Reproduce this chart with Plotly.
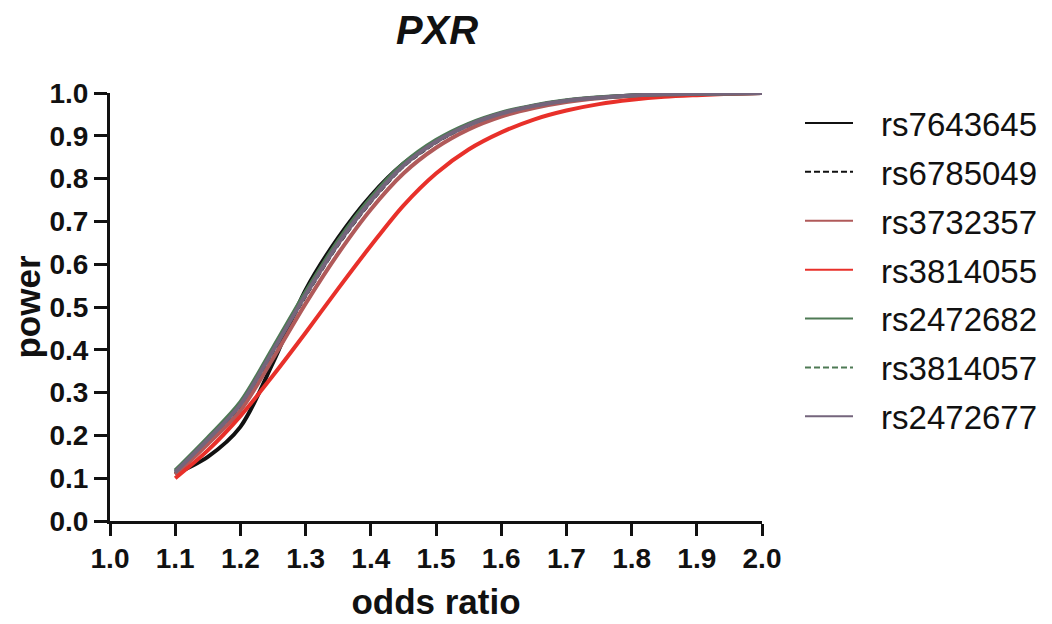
import plotly.graph_objects as go

odds_ratio = [1.10, 1.15, 1.20, 1.25, 1.30, 1.35, 1.40, 1.45, 1.50, 1.55,
              1.60, 1.65, 1.70, 1.75, 1.80, 1.85, 1.90, 1.95, 2.00]

rs7643645 = [0.110, 0.150, 0.220, 0.370, 0.540, 0.662, 0.760, 0.835, 0.887, 0.926,
             0.952, 0.970, 0.982, 0.989, 0.994, 0.997, 0.998, 0.999, 1.000]
rs6785049 = [0.112, 0.188, 0.268, 0.395, 0.525, 0.645, 0.745, 0.828, 0.884, 0.924,
             0.951, 0.969, 0.981, 0.989, 0.994, 0.997, 0.998, 0.999, 1.000]
rs3732357 = [0.108, 0.180, 0.258, 0.380, 0.508, 0.625, 0.728, 0.812, 0.872, 0.915,
             0.945, 0.965, 0.979, 0.988, 0.993, 0.996, 0.998, 0.999, 1.000]
rs3814055 = [0.100, 0.165, 0.245, 0.340, 0.440, 0.543, 0.643, 0.737, 0.812, 0.868,
             0.908, 0.938, 0.959, 0.974, 0.984, 0.991, 0.995, 0.998, 1.000]
rs2472682 = [0.118, 0.195, 0.278, 0.405, 0.535, 0.655, 0.755, 0.835, 0.890, 0.928,
             0.954, 0.971, 0.983, 0.990, 0.994, 0.997, 0.998, 0.999, 1.000]
rs3814057 = [0.116, 0.193, 0.275, 0.402, 0.532, 0.652, 0.752, 0.833, 0.888, 0.927,
             0.953, 0.970, 0.982, 0.989, 0.994, 0.997, 0.998, 0.999, 1.000]
rs2472677 = [0.114, 0.190, 0.272, 0.398, 0.528, 0.648, 0.748, 0.830, 0.886, 0.925,
             0.952, 0.970, 0.982, 0.989, 0.994, 0.997, 0.998, 0.999, 1.000]

series = [
    ("rs7643645", rs7643645, "#111111", "solid"),
    ("rs6785049", rs6785049, "#111111", "dash"),
    ("rs3732357", rs3732357, "#b05a5a", "solid"),
    ("rs3814055", rs3814055, "#e8302a", "solid"),
    ("rs2472682", rs2472682, "#4e7a55", "solid"),
    ("rs3814057", rs3814057, "#4e7a55", "dash"),
    ("rs2472677", rs2472677, "#74657c", "solid"),
]

x_ticks = [1.0, 1.1, 1.2, 1.3, 1.4, 1.5, 1.6, 1.7, 1.8, 1.9, 2.0]
y_ticks = [0.0, 0.1, 0.2, 0.3, 0.4, 0.5, 0.6, 0.7, 0.8, 0.9, 1.0]

FONT = "Liberation Sans, Arial, sans-serif"
INK = "#111111"
LEGEND_PAD = "\u2002\u2009"  # visual gap between key line and label

fig = go.Figure()
for i, (name, vals, color, dash) in enumerate(series):
    fig.add_trace(go.Scatter(
        x=odds_ratio, y=vals, mode="lines", name=name, showlegend=False,
        legendgroup=f"g{i}",
        line=dict(color=color, width=4 if dash == "solid" else 3,
                  dash="6px,3px" if dash == "dash" else "solid",
                  shape="spline", smoothing=0.9),
    ))
    fig.add_trace(go.Scatter(
        x=[None], y=[None], mode="lines", name=LEGEND_PAD + name, showlegend=True,
        legendgroup=f"g{i}",
        line=dict(color=color, width=2, dash="6px,3px" if dash == "dash" else "solid"),
    ))

tick_font = dict(family=FONT, size=28, color=INK)
title_font = dict(family=FONT, size=35, color=INK)
fig.update_layout(
    width=1052, height=624,
    margin=dict(l=102, r=298, t=85, b=111, autoexpand=False),
    paper_bgcolor="white", plot_bgcolor="white",
    title=dict(text="<b><i>PXR</i></b>", x=429 / 1052, xanchor="center",
               y=1 - 22 / 624, yanchor="middle", xref="container", yref="container",
               font=dict(family=FONT, size=40, color=INK)),
    xaxis=dict(range=[1.0, 2.0], tickvals=x_ticks, ticktext=[f"<b>{v:.1f}</b>" for v in x_ticks],
               showgrid=False, zeroline=False, showline=True, linecolor=INK, linewidth=3,
               ticks="outside", ticklen=12, tickwidth=3, tickcolor=INK, tickfont=tick_font,
               ticklabelstandoff=-2, automargin=False,
               title=dict(text="<b>odds ratio</b>", font=title_font, standoff=17)),
    yaxis=dict(range=[0.0, 1.0], tickvals=y_ticks, ticktext=[f"<b>{v:.1f}</b>" for v in y_ticks],
               showgrid=False, zeroline=False, showline=True, linecolor=INK, linewidth=3,
               ticks="outside", ticklen=13, tickwidth=3, tickcolor=INK, tickfont=tick_font,
               automargin=False,
               title=dict(text="<b>power</b>", font=title_font, standoff=18)),
    legend=dict(x=792 / 1052, xref="container", xanchor="left",
                y=1 - 87 / 624, yref="container", yanchor="top",
                font=dict(family=FONT, size=33, color=INK),
                tracegroupgap=3, itemwidth=48, bgcolor="rgba(0,0,0,0)",
                maxheight=600),
    showlegend=True,
)

fig.write_html("out.html")
